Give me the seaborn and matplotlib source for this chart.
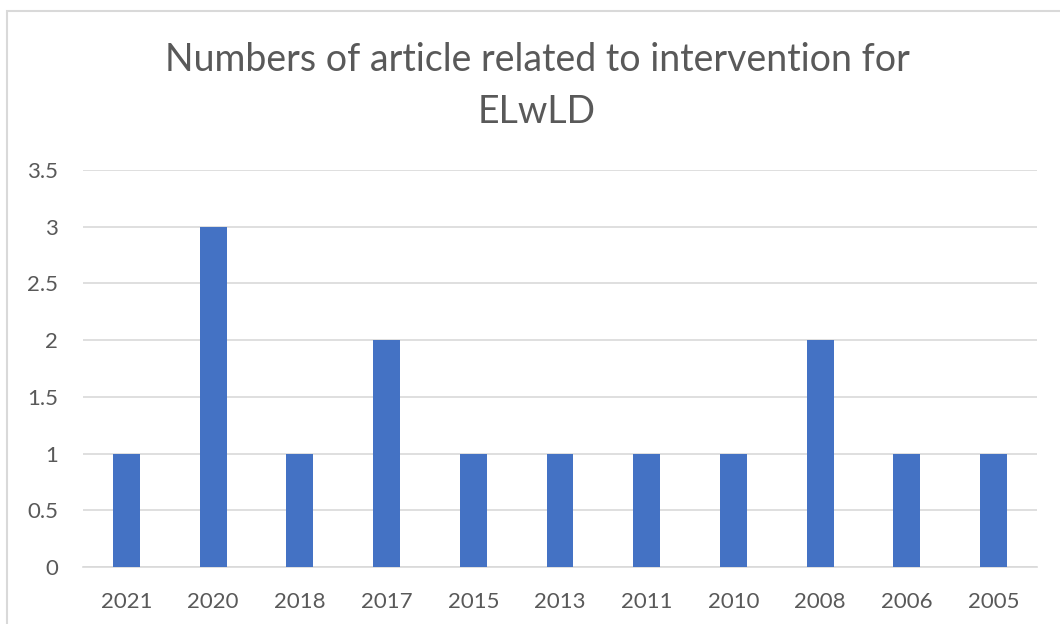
import matplotlib
matplotlib.use("Agg")
import matplotlib.pyplot as plt
from matplotlib.patches import Rectangle
import pandas as pd
import seaborn as sns

years = ["2021", "2020", "2018", "2017", "2015", "2013", "2011", "2010", "2008", "2006", "2005"]
counts = [1, 3, 1, 2, 1, 1, 1, 1, 2, 1, 1]
title_lines = ["Numbers of article related to intervention for", "ELwLD"]
y_ticks = [0, 0.5, 1, 1.5, 2, 2.5, 3, 3.5]
y_tick_labels = ["0", "0.5", "1", "1.5", "2", "2.5", "3", "3.5"]

sns.set_theme(style="white")
plt.rcParams["font.family"] = ["Lato", "DejaVu Sans"]

text_gray = "#595959"
grid_gray = "#d9d9d9"
bar_blue = "#4472C4"

df = pd.DataFrame({"year": years, "count": counts})

fig = plt.figure(figsize=(10.6, 6.24), dpi=100)
fig.patch.set_facecolor("white")

# chart frame (runs past the right and bottom edges)
fig.patches.append(Rectangle((7 / 1060, -0.05), 1.1, 1 - 11 / 624 + 0.05,
                             transform=fig.transFigure, fill=False,
                             edgecolor="#d9d9d9", linewidth=1.5, zorder=0))

ax = fig.add_axes([83 / 1060, 1 - 567 / 624, (1037 - 83) / 1060, (567 - 170) / 624])
sns.barplot(data=df, x="year", y="count", order=years, color=bar_blue,
            width=0.31, saturation=1, linewidth=0, ax=ax, zorder=3)

ax.set_xlim(-0.5, len(years) - 0.5)
ax.set_ylim(0, 3.5)
ax.set_yticks(y_ticks)
ax.set_yticklabels(y_tick_labels)
ax.yaxis.grid(True, color=grid_gray, linewidth=1.2, zorder=0)
ax.set_axisbelow(True)
for side in ["top", "right", "left"]:
    ax.spines[side].set_visible(False)
ax.spines["bottom"].set_color(grid_gray)
ax.spines["bottom"].set_linewidth(1.2)
ax.set_xlabel("")
ax.set_ylabel("")
ax.tick_params(axis="x", length=0, pad=18, labelsize=16, labelcolor=text_gray)
ax.tick_params(axis="y", length=0, pad=18, labelsize=16, labelcolor=text_gray)

fig.text(537 / 1060, 1 - 60 / 624, title_lines[0], ha="center", va="center",
         fontsize=27, color=text_gray)
fig.text(537 / 1060, 1 - 112 / 624, title_lines[1], ha="center", va="center",
         fontsize=27, color=text_gray)

fig.savefig("out.png", dpi=100, facecolor="white")
